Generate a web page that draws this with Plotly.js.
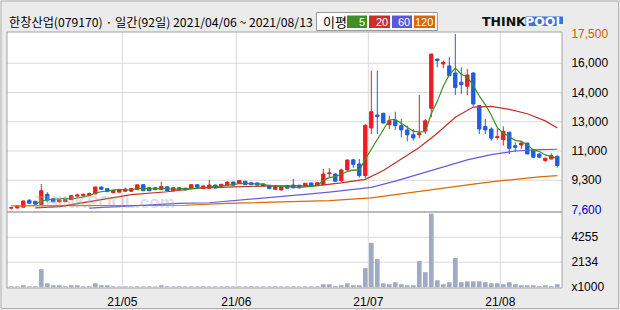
<!DOCTYPE html>
<html><head><meta charset="utf-8">
<script src="https://cdn.plot.ly/plotly-3.0.1.min.js"></script>
<style>html,body{margin:0;padding:0;background:#ebebeb;}#chart{width:620px;height:310px;}</style>
</head><body><div id="chart"></div>
<script>
// ---- data ----
const openP = [7680,7690,7730,8120,8065,7880,8460,8200,8040,8050,8160,8350,8380,8420,8480,8870,8780,8550,8580,8630,
8630,8720,9000,8830,8830,8720,8880,8660,8830,8800,8780,9000,8780,8800,8980,8890,8970,9150,9080,9190,
9110,9100,9040,8970,8740,8700,8950,8980,8970,8910,9100,8980,9000,9620,9600,9220,9830,10400,10170,9510,
12200,12930,13030,12390,12610,12330,12090,11820,11820,12030,13310,16090,15810,15700,15300,14780,14550,15300,13460,12280,
12140,11660,11540,11960,11200,11240,11350,10960,10730,10360,10450,10600];
const highP = [7760,7800,8100,8180,8080,9040,8570,8250,8180,8200,8420,8470,8500,8560,8880,8880,8800,8700,8740,8840,
8800,9000,9010,8850,8840,9170,8900,8850,8850,8830,9020,9010,8950,9270,9000,9040,9170,9170,9250,9210,
9130,9120,9060,8990,8930,8910,8970,9320,8990,9100,9120,9130,9900,9930,9650,9900,10420,10450,10450,12400,
15430,15430,13050,12900,13120,12710,12330,12140,14060,12710,16370,16090,16000,16190,17500,15620,15530,15340,13500,12710,
12240,12180,12290,11990,11390,11480,11350,10980,10760,10520,10770,10640];
const lowP = [7600,7650,7720,7930,7880,7870,8010,8000,8000,8030,8140,8320,8350,8400,8470,8720,8590,8520,8560,8620,
8600,8700,8650,8640,8700,8700,8630,8650,8700,8680,8760,8830,8760,8780,8790,8870,8950,8950,9060,8980,
8980,8960,8910,8750,8720,8680,8780,8800,8800,8890,8930,8960,8980,9420,9150,9150,9800,9950,9400,9360,
11860,11860,12450,12140,12090,11670,11450,11490,11620,11860,12800,15620,15560,15150,14060,14120,14060,13420,11860,11860,
11480,11540,11200,10730,10830,11010,10730,10500,10500,10300,10430,9960];
const closeP = [7700,7790,8080,7950,7900,8660,8120,8040,8140,8160,8380,8420,8460,8500,8870,8740,8610,8690,8720,8750,
8780,8990,8660,8660,8720,8900,8650,8830,8720,8700,9000,8850,8930,8980,8810,9020,9150,8970,9230,9000,
9000,8980,8930,8780,8910,8890,8800,8820,8820,9080,8950,9110,9600,9660,9200,9830,10390,10150,9510,12350,
13120,12840,12480,12610,12330,12090,11810,11640,11900,12600,16370,16000,15900,15150,14480,14640,15190,13550,12140,12090,
11620,11700,12010,11050,11110,11350,10730,10550,10550,10490,10640,10080];
const volume = [80,70,170,80,90,1540,340,170,180,90,170,170,80,90,340,170,170,80,70,80,
70,80,70,80,70,170,80,70,80,70,80,70,80,70,80,70,80,70,80,70,
80,70,80,70,80,70,80,80,70,80,80,80,260,260,90,170,340,170,170,1630,
3780,2400,340,260,430,260,170,170,2230,1290,6260,600,260,430,2490,430,510,510,510,430,
340,340,260,430,260,170,170,170,90,170,90,260];
const ma5 = [null,null,null,null,7900,8070,8150,8180,8200,8230,8180,8230,8310,8380,8530,8600,8640,8680,8730,8700,
8710,8790,8790,8780,8770,8800,8770,8750,8760,8760,8810,8810,8840,8890,8910,8920,8970,9000,9060,9070,
9070,9040,9030,8940,8920,8900,8860,8840,8850,8880,8900,8950,9250,9400,9450,9600,9740,9830,9820,10450,
11000,11550,12050,12650,12680,12470,12250,12020,11960,12000,13000,13700,14550,15200,15580,15230,15070,14600,14000,13520,
12920,12220,11910,11690,11500,11440,11250,10960,10870,10680,10590,10480];
const ma20Idx = [4,8,14,20,26,31,37,43,51,55,59,62,65,68,71,74,77,80,83,86,89,91];
const ma20Val = [7690,7760,8100,8440,8600,8800,8880,8930,8950,9100,9300,9800,10450,11100,11900,12800,13380,13420,13250,13000,12600,12200];
const ma60Idx = [13,19,22,28,33,38,43,48,53,56,60,64,68,72,76,80,84,88,91];
const ma60Val = [7680,7780,7820,7950,7980,8120,8250,8420,8580,8680,8850,9200,9600,10000,10400,10700,10900,10980,11000];
const ma120Idx = [0,10,20,29,36,46,53,60,64,68,72,77,81,85,88,91];
const ma120Val = [7810,7810,7820,7840,7950,8040,8100,8260,8450,8640,8830,9030,9200,9360,9440,9510];
const priceTickVals = [7600,9250,10900,12550,14200,15850,17500];
const priceTickText = ['<span style="color:#0000d0">7,600</span>','9,300','11,000','13,000','14,000','16,000','<span style="color:#d06000">17,500</span>'];
const volTickVals = [0,2134,4255];
const volTickText = ['x1000','2134','4255'];
const monthStartIdx = [19,38,60,82];
const monthLabels = ['21/05','21/06','21/07','21/08'];
const maLegendLabels = ['5','20','60','120'];

// ---- helpers for layout (pixel -> paper) ----
const ML=7, MR=58, MT=32, MB=22, W=620, H=310;
const PW=W-ML-MR, PH=H-MT-MB;
const xp = px => (px-ML)/PW;
const yp = py => (H-MB-py)/PH;
const split = yp(212);

const days = closeP.map((_, i) => i);
const UP='#ee1c25', DN='#1e5fe0';

const traces = [
  {type:'scatter',mode:'lines',x:ma120Idx,y:ma120Val,line:{color:'#dc6a00',width:1.2},hoverinfo:'skip'},
  {type:'scatter',mode:'lines',x:ma60Idx,y:ma60Val,line:{color:'#6a5ae0',width:1.2},hoverinfo:'skip'},
  {type:'scatter',mode:'lines',x:ma20Idx,y:ma20Val,line:{color:'#c0302c',width:1.2},hoverinfo:'skip'},
  {type:'scatter',mode:'lines',x:days,y:ma5,line:{color:'#3a8f22',width:1.2},hoverinfo:'skip'},
  {type:'candlestick',x:days,open:openP,high:highP,low:lowP,close:closeP,xaxis:'x',yaxis:'y',
   increasing:{line:{color:UP,width:1},fillcolor:UP},decreasing:{line:{color:DN,width:1},fillcolor:DN},
   whiskerwidth:0,hoverinfo:'skip'},
  {type:'bar',x:days,y:volume,xaxis:'x',yaxis:'y2',marker:{color:'#a1aac4',line:{width:0}},hoverinfo:'skip'}
];

const shapes = [];
shapes.push({type:'rect',xref:'paper',yref:'paper',x0:0,x1:1,y0:split,y1:1,fillcolor:'#ffffff',line:{width:0},layer:'below'});
shapes.push({type:'rect',xref:'paper',yref:'paper',x0:0,x1:1,y0:0,y1:split,fillcolor:'#ffffff',line:{width:0},layer:'below'});
priceTickVals.slice(1,-1).forEach(v=>shapes.push({type:'line',xref:'paper',yref:'y',x0:0,x1:1,y0:v,y1:v,line:{color:'#d9d9d9',width:1},layer:'below'}));
volTickVals.slice(1).forEach(v=>shapes.push({type:'line',xref:'paper',yref:'y2',x0:0,x1:1,y0:v,y1:v,line:{color:'#d9d9d9',width:1},layer:'below'}));
monthStartIdx.forEach(i=>shapes.push({type:'line',xref:'x',yref:'paper',x0:i-0.5,x1:i-0.5,y0:0,y1:1,line:{color:'#d9d9d9',width:1},layer:'below'}));
shapes.push({type:'rect',xref:'paper',yref:'paper',x0:0,x1:1,y0:split,y1:1,fillcolor:'rgba(0,0,0,0)',line:{color:'#a4a4a4',width:1},layer:'above'});
shapes.push({type:'rect',xref:'paper',yref:'paper',x0:0,x1:1,y0:0,y1:split,fillcolor:'rgba(0,0,0,0)',line:{color:'#a4a4a4',width:1},layer:'above'});
shapes.push({type:'rect',xref:'paper',yref:'paper',x0:xp(1),x1:xp(618.5),y0:yp(308.5),y1:yp(1),fillcolor:'rgba(0,0,0,0)',line:{color:'#b0b0b0',width:1},layer:'below'});
// legend box
shapes.push({type:'rect',xref:'paper',yref:'paper',x0:xp(316.5),x1:xp(437.5),y0:yp(30.5),y1:yp(12.5),fillcolor:'#ffffff',line:{color:'#9a9a9a',width:1},layer:'above'});
const maBoxes = [[347,367,'#3f8f24'],[369,390,'#c8312b'],[392,412,'#5b58d9'],[414,435,'#d8650b']];
maBoxes.forEach(b=>shapes.push({type:'rect',xref:'paper',yref:'paper',x0:xp(b[0]),x1:xp(b[1]),y0:yp(28),y1:yp(15.5),fillcolor:b[2],line:{width:0},layer:'above'}));
// logo background
shapes.push({type:'rect',xref:'paper',yref:'paper',x0:xp(525.5),x1:xp(563),y0:yp(26),y1:yp(16.5),fillcolor:'#3f72d8',line:{width:0},layer:'above'});

const annotations = [
  {xref:'paper',yref:'paper',x:xp(7),y:yp(22),xanchor:'left',yanchor:'middle',showarrow:false,
   text:'한창산업(079170) · 일간(92일) 2021/04/06 ~ 2021/08/13',font:{family:'Noto Sans CJK KR',size:12.2,color:'#000'}},
  {xref:'paper',yref:'paper',x:xp(321),y:yp(21.5),xanchor:'left',yanchor:'middle',showarrow:false,
   text:'이평',font:{family:'Noto Sans CJK KR',size:13,color:'#000'}},
  {xref:'paper',yref:'paper',x:xp(504),y:yp(21.5),xanchor:'center',yanchor:'middle',showarrow:false,
   text:'<b>THINK</b>',font:{family:'DejaVu Sans',size:12.5,color:'#111'}},
  {xref:'paper',yref:'paper',x:xp(544.3),y:yp(21.5),xanchor:'center',yanchor:'middle',showarrow:false,
   text:'<b>POOL</b>',font:{family:'DejaVu Sans',size:12.5,color:'#ffffff'}},
  {xref:'paper',yref:'paper',x:xp(105),y:yp(202),xanchor:'center',yanchor:'middle',showarrow:false,
   text:'<b>THINKPOOL.com</b>',font:{family:'Liberation Sans',size:17,color:'rgba(170,170,170,0.4)'}}
];
maBoxes.forEach((b,k)=>annotations.push({xref:'paper',yref:'paper',x:xp(b[1]-0.5),y:yp(22),xanchor:'right',yanchor:'middle',showarrow:false,
   text:maLegendLabels[k],font:{family:'Liberation Sans',size:11,color:'#ffffff'}}));

const tickFont = {family:'Liberation Sans',size:12,color:'#000'};
const layout = {
  width:W,height:H,margin:{l:ML,r:MR,t:MT,b:MB,pad:0},
  paper_bgcolor:'#ebebeb',plot_bgcolor:'rgba(0,0,0,0)',showlegend:false,
  boxgap:0.2,bargap:0.22,
  xaxis:{range:[-0.717,91.783],anchor:'y2',tickvals:monthStartIdx.map(i=>i-0.5),ticktext:monthLabels,
    showgrid:false,zeroline:false,showline:false,ticks:'outside',ticklen:3,tickcolor:'rgba(0,0,0,0)',
    tickfont:tickFont,rangeslider:{visible:false},fixedrange:true},
  yaxis:{domain:[split,1],range:[7459,17613],side:'right',anchor:'x',tickvals:priceTickVals,ticktext:priceTickText,
    showgrid:false,zeroline:false,showline:false,ticks:'outside',ticklen:6,tickcolor:'rgba(0,0,0,0)',tickfont:tickFont,fixedrange:true},
  yaxis2:{domain:[0,split],range:[-60,6400],side:'right',anchor:'x',tickvals:volTickVals,ticktext:volTickText,
    showgrid:false,zeroline:false,showline:false,ticks:'outside',ticklen:6,tickcolor:'rgba(0,0,0,0)',tickfont:tickFont,fixedrange:true},
  shapes:shapes,annotations:annotations
};
Plotly.newPlot('chart',traces,layout,{staticPlot:true,displayModeBar:false});
</script></body></html>
